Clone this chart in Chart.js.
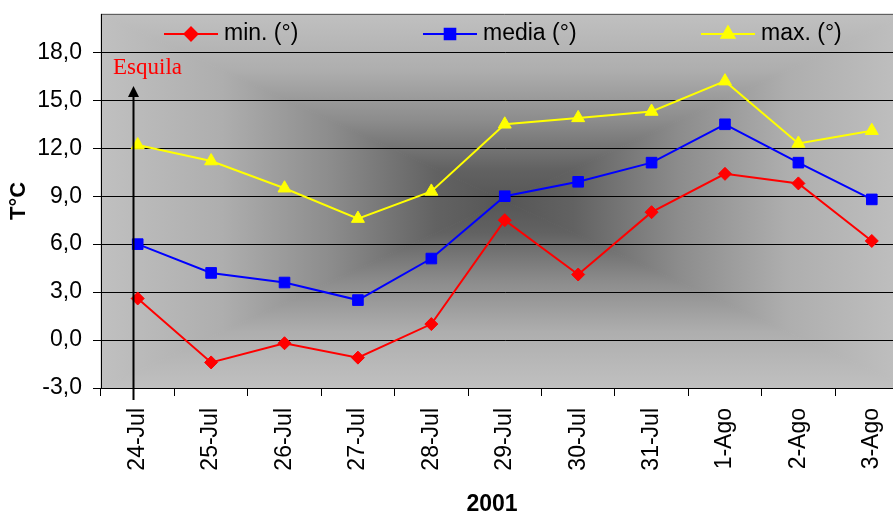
<!DOCTYPE html>
<html>
<head>
<meta charset="utf-8">
<script src="https://cdn.jsdelivr.net/npm/chart.js@4.4.0/dist/chart.umd.min.js"></script>
<style>
  html, body { margin: 0; padding: 0; background: #fff; overflow: hidden; }
  #wrap { width: 917px; height: 519px; }
</style>
</head>
<body>
<div id="wrap"><canvas id="chart" width="917" height="519"></canvas></div>
<script>
// data
const days = ['24-Jul', '25-Jul', '26-Jul', '27-Jul', '28-Jul', '29-Jul', '30-Jul', '31-Jul', '1-Ago', '2-Ago', '3-Ago'];
const tempMin = [2.6, -1.4, -0.2, -1.1, 1.0, 7.5, 4.1, 8.0, 10.4, 9.8, 6.2];
const tempMedia = [6.0, 4.2, 3.6, 2.5, 5.1, 9.0, 9.9, 11.1, 13.5, 11.1, 8.8];
const tempMax = [12.2, 11.2, 9.5, 7.6, 9.3, 13.5, 13.9, 14.3, 16.2, 12.3, 13.1];
const yTicks = [-3, 0, 3, 6, 9, 12, 15, 18];

const SANS = '"Liberation Sans", Arial, sans-serif';
const SERIF = '"Liberation Serif", "Times New Roman", serif';

// legend entries: x of the sample line start (layout only)
const legendX = [164, 423, 701];

// Excel-like "from centre" rectangular gradient behind the plot
const plotBackground = {
  id: 'plotBackground',
  beforeDraw(chart) {
    const { ctx, chartArea: a } = chart;
    const cx = (a.left + a.right) / 2;
    const cy = (a.top + a.bottom) / 2;
    const stops = [[0, '#c0c0c0'], [0.3, '#aeaeae'], [0.57, '#8c8c8c'], [0.83, '#626262'], [1, '#565656']];
    const tris = [
      [[a.left, a.top], [a.right, a.top], cx, a.top],
      [[a.right, a.top], [a.right, a.bottom], a.right, cy],
      [[a.right, a.bottom], [a.left, a.bottom], cx, a.bottom],
      [[a.left, a.bottom], [a.left, a.top], a.left, cy]
    ];
    ctx.save();
    tris.forEach(([p1, p2, ex, ey]) => {
      const g = ctx.createLinearGradient(ex, ey, cx, cy);
      stops.forEach(([o, c]) => g.addColorStop(o, c));
      ctx.beginPath();
      ctx.moveTo(p1[0], p1[1]);
      ctx.lineTo(p2[0], p2[1]);
      ctx.lineTo(cx, cy);
      ctx.closePath();
      ctx.fillStyle = g;
      ctx.fill();
      ctx.strokeStyle = g;
      ctx.lineWidth = 1;
      ctx.stroke();
    });
    // top border of the plot
    ctx.strokeStyle = '#606060';
    ctx.beginPath();
    ctx.moveTo(a.left, a.top + 0.5);
    ctx.lineTo(a.right, a.top + 0.5);
    ctx.stroke();
    ctx.restore();
  }
};

// legend inside the plot, the arrow with "Esquila", and the x title
const extras = {
  id: 'extras',
  afterDraw(chart) {
    const { ctx, chartArea: a } = chart;
    const xs = chart.scales.x;
    ctx.save();

    // legend
    const ly = a.top + 20;
    chart.data.datasets.forEach((ds, i) => {
      const x0 = legendX[i];
      ctx.strokeStyle = ds.borderColor;
      ctx.lineWidth = 2;
      ctx.beginPath();
      ctx.moveTo(x0, ly);
      ctx.lineTo(x0 + 54, ly);
      ctx.stroke();
      ctx.fillStyle = ds.pointBackgroundColor;
      ctx.strokeStyle = ds.borderColor;
      Chart.helpers.drawPoint(ctx, {
        pointStyle: ds.pointStyle, radius: ds.pointRadius, borderWidth: 1, rotation: 0
      }, x0 + 27, ly);
      ctx.fillStyle = '#000';
      ctx.font = '23px ' + SANS;
      ctx.textAlign = 'left';
      ctx.textBaseline = 'middle';
      ctx.fillText(ds.label, x0 + 60, ly);
    });

    // arrow marking the shearing (esquila) day
    const ax = Math.round(xs.getPixelForValue(0)) - 4.5;
    ctx.strokeStyle = '#000';
    ctx.fillStyle = '#000';
    ctx.lineWidth = 2;
    ctx.beginPath();
    ctx.moveTo(ax, a.bottom + 12);
    ctx.lineTo(ax, 94);
    ctx.stroke();
    ctx.beginPath();
    ctx.moveTo(ax, 86);
    ctx.lineTo(ax - 5.5, 97);
    ctx.lineTo(ax + 5.5, 97);
    ctx.closePath();
    ctx.fill();
    ctx.fillStyle = '#ff0000';
    ctx.font = '23px ' + SERIF;
    ctx.textAlign = 'left';
    ctx.textBaseline = 'alphabetic';
    ctx.fillText('Esquila', 113, 74);

    // x axis title
    ctx.fillStyle = '#000';
    ctx.font = 'bold 23px ' + SANS;
    ctx.textAlign = 'center';
    ctx.textBaseline = 'middle';
    ctx.fillText('2001', 492, 505);
    ctx.restore();
  }
};

new Chart(document.getElementById('chart'), {
  type: 'line',
  data: {
    labels: days,
    datasets: [
      {
        label: 'min. (°)', data: tempMin,
        borderColor: '#ff0000', backgroundColor: '#ff0000', pointBackgroundColor: '#ff0000',
        pointStyle: 'rectRot', pointRadius: 6.5, pointBorderWidth: 1, borderWidth: 2
      },
      {
        label: 'media (°)', data: tempMedia,
        borderColor: '#0000ff', backgroundColor: '#0000ff', pointBackgroundColor: '#0000ff',
        pointStyle: 'rect', pointRadius: 7.5, pointBorderWidth: 1, borderWidth: 2
      },
      {
        label: 'max. (°)', data: tempMax,
        borderColor: '#ffff00', backgroundColor: '#ffff00', pointBackgroundColor: '#ffff00',
        pointStyle: 'triangle', pointRadius: 7.5, pointBorderWidth: 1, borderWidth: 2
      }
    ]
  },
  options: {
    responsive: false,
    animation: false,
    tension: 0,
    layout: { padding: { left: 0, top: 14, right: 1, bottom: 0 } },
    plugins: { legend: { display: false }, tooltip: { enabled: false } },
    scales: {
      x: {
        offset: true,
        grid: { offset: true, drawOnChartArea: false, color: '#000', tickColor: '#000', tickLength: 8 },
        border: { color: '#000', width: 1 },
        ticks: {
          minRotation: 90, maxRotation: 90, padding: 12, autoSkip: false,
          color: '#000', font: { family: SANS, size: 23 }
        },
        afterFit(s) {
          s.height = 131;
          s.paddingLeft = 0;
          s.paddingRight = 0;
        }
      },
      y: {
        min: -3,
        max: 20.4,
        afterBuildTicks(s) { s.ticks = yTicks.map(v => ({ value: v })); },
        grid: { color: '#000', tickColor: '#000', tickLength: 8, lineWidth: 1 },
        border: { color: '#000', width: 1 },
        ticks: {
          padding: 11, color: '#000', font: { family: SANS, size: 23 },
          callback: v => v.toFixed(1).replace('.', ',')
        },
        title: {
          display: true, text: 'T°C', color: '#000',
          font: { family: SANS, size: 22, weight: 'bold' }, padding: { top: 6, bottom: 0 }
        },
        afterFit(s) {
          s.width = 101;
          s.paddingTop = 0;
          s.paddingBottom = 0;
        }
      }
    }
  },
  plugins: [plotBackground, extras]
});
</script>
</body>
</html>
